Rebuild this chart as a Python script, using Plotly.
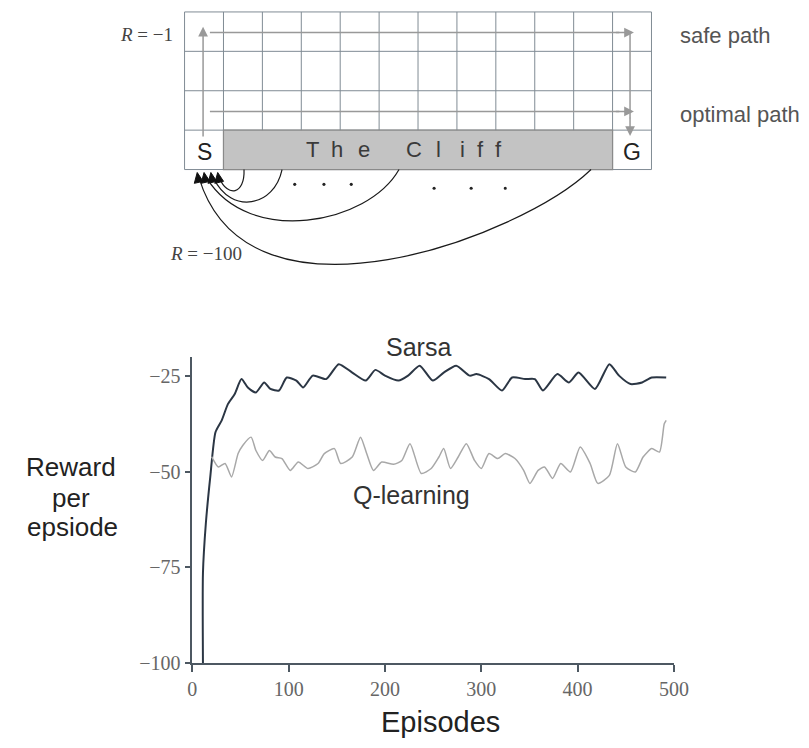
import plotly.graph_objects as go

# The page adds an 8px body margin, so the figure is 16px smaller than the window
PAGE_W, PAGE_H = 809, 748
OFF = 8
W, H = PAGE_W - 2 * OFF, PAGE_H - 2 * OFF

# ---------------- data ----------------
sarsa_episodes = [11, 11, 14, 18.6, 24, 30.5, 37, 44, 51, 57.6, 66, 74.6, 81, 90, 98, 108, 115, 125, 139,
                  152, 166, 180, 190, 200, 214, 224, 236, 249.6, 261, 274, 288, 295, 308, 321.5, 332, 345.5,
                  355.6, 364, 379, 391, 401, 418, 433, 443, 455, 467, 477, 492]
sarsa_reward = [-100, -76.5, -63.5, -51.3, -39.6, -36.5, -32.2, -29.6, -25.7, -27.9, -29.2, -26.6, -28.3, -28.7,
                -25.3, -26.1, -27.9, -24.8, -25.7, -21.8, -24.0, -26.1, -23.3, -24.8, -26.1, -24.8, -22.2, -26.1,
                -24.0, -22.2, -24.8, -24.4, -25.7, -28.7, -25.3, -25.7, -25.7, -28.7, -24.4, -26.6, -24.0, -28.3,
                -21.8, -24.8, -27.0, -26.6, -25.3, -25.3]

q_episodes = [20, 27, 34, 40.7, 47.5, 52.5, 61, 66, 73, 80, 86, 93, 101.7, 110, 120, 130.5, 137, 147.5, 154,
              166, 174.6, 181, 188, 196.6, 209, 217.5, 226, 237.7, 248, 256, 261, 268, 276, 284.5, 293, 300,
              308, 317, 325, 335, 344, 350.5, 359, 365.7, 374, 382.5, 392.6, 402.7, 413, 421, 433, 441.4, 450,
              460, 468, 477, 485, 490, 492]
q_reward = [-46.0, -48.7, -47.8, -51.3, -45.2, -43.0, -40.9, -44.4, -47.0, -44.4, -46.1, -46.5, -49.6, -47.4,
            -49.1, -47.8, -45.2, -43.9, -47.8, -46.1, -40.9, -45.2, -49.6, -47.4, -48.0, -47.0, -42.6, -50.4,
            -49.1, -46.1, -43.9, -49.1, -46.1, -42.6, -47.0, -49.1, -45.2, -46.5, -45.2, -46.5, -49.6, -53.0,
            -49.6, -48.7, -51.7, -47.8, -50.0, -43.5, -47.8, -53.0, -50.9, -42.6, -48.7, -50.0, -46.1, -43.9,
            -44.8, -37.4, -36.5]

x_ticks = [0, 100, 200, 300, 400, 500]
y_ticks = [-100, -75, -50, -25]

# ---------------- helpers ----------------
GRID = "#808b94"
AXIS = "#4d5862"
SANS = "Liberation Sans, Arial, sans-serif"
SERIF = "Liberation Serif, Times New Roman, serif"

fig = go.Figure()

fig.add_trace(go.Scatter(x=sarsa_episodes, y=sarsa_reward, mode="lines",
                         line=dict(color="#2b3644", width=2, shape="spline", smoothing=0.6),
                         name="Sarsa", showlegend=False, hoverinfo="skip"))
fig.add_trace(go.Scatter(x=q_episodes, y=q_reward, mode="lines",
                         line=dict(color="#a8a8a8", width=1.5, shape="spline", smoothing=0.6),
                         name="Q-learning", showlegend=False, hoverinfo="skip"))
# invisible trace that establishes the pixel-space overlay axes for the diagram
fig.add_trace(go.Scatter(x=[0], y=[0], xaxis="x2", yaxis="y2", mode="markers",
                         marker=dict(size=1, opacity=0), showlegend=False, hoverinfo="skip"))

shapes = []
ann = []

def line(x0, y0, x1, y1, color=GRID, width=1):
    shapes.append(dict(type="line", xref="x2", yref="y2", x0=x0, y0=y0, x1=x1, y1=y1,
                       line=dict(color=color, width=width), layer="above"))

def path(d, color="#1a1a1a", width=1.2, fill=None):
    s = dict(type="path", xref="x2", yref="y2", path=d, line=dict(color=color, width=width), layer="above")
    if fill:
        s["fillcolor"] = fill
    shapes.append(s)

def text(x, y, t, size=13, color="#333", family=SANS, xanchor="center"):
    ann.append(dict(x=x, y=y, xref="x2", yref="y2", text=t, showarrow=False, xanchor=xanchor,
                    yanchor="middle", font=dict(size=size, color=color, family=family)))

def arrow(x, y, ax, ay, color="#999", width=1.5):
    ann.append(dict(x=x, y=y, ax=ax, ay=ay, xref="x2", yref="y2", axref="x2", ayref="y2",
                    text="", showarrow=True, arrowhead=2, arrowsize=1.3, arrowwidth=width,
                    arrowcolor=color, standoff=0))

# --------- grid world ---------
gx0, gx1, gy0, gy1 = 184, 663, 12, 172
ncol, nrow = 12, 4
cw = (gx1 - gx0) / ncol
ch = (gy1 - gy0) / nrow
for i in range(ncol + 1):
    line(gx0 + i * cw, gy0, gx0 + i * cw, gy1)
for j in range(nrow + 1):
    line(gx0, gy0 + j * ch, gx1, gy0 + j * ch)

# cliff
shapes.append(dict(type="rect", xref="x2", yref="y2", x0=gx0 + cw, x1=gx1 - cw, y0=gy1 - ch, y1=gy1,
                   fillcolor="#c3c3c3", line=dict(color="#8a8a8a", width=1.2), layer="above"))
cliff_letters = ["T", "h", "e", "C", "l", "i", "f", "f"]
cliff_x = [315, 340, 368, 419, 444, 469, 488, 506]
for ch_, cx in zip(cliff_letters, cliff_x):
    text(cx, 152, ch_, size=22, color="#3a3a3a")
text(gx0 + cw / 2, 154, "S", size=23, color="#222")
text(gx1 - cw / 2, 154, "G", size=23, color="#222")

# paths (gray arrows)
arrow(203, 27, 203, 140)                # up from S
line(210, 33, 630, 33, color="#999", width=1.5)
arrow(645, 33, 625, 33)                 # safe path right
line(641, 34, 641, 120, color="#999", width=1.5)
arrow(641, 138, 641, 118)               # down into G
line(210, 113, 630, 113, color="#999", width=1.5)
arrow(645, 113, 625, 113)               # optimal path right

text(690, 36, "safe path", size=22, color="#555", xanchor="left")
text(690, 116, "optimal path", size=22, color="#555", xanchor="left")
text(116, 35, "<i>R</i> = −1", size=19, color="#444", family=SERIF, xanchor="left")
text(167, 257, "<i>R</i> = −100", size=19, color="#444", family=SERIF, xanchor="left")

# falling arcs back to S
path("M 245 172 C 246 198, 228 200, 220 181")
path("M 284 172 C 276 210, 232 218, 214 181")
path("M 404 172 C 372 228, 250 250, 207 181")
path("M 601 172 C 530 240, 250 345, 199 181")
# arrowheads
for hx in [197, 204, 211, 218]:
    path(f"M {hx} 175 L {hx - 3} 186 L {hx + 6} 184 Z", color="#111", width=1, fill="#111")

# dots
for dx, dy in [(297, 187), (327, 187), (355, 187), (440, 191), (478, 191), (513, 191)]:
    shapes.append(dict(type="circle", xref="x2", yref="y2", x0=dx - 1.6, x1=dx + 1.6, y0=dy - 1.6, y1=dy + 1.6,
                       fillcolor="#222", line=dict(width=0), layer="above"))

# --------- chart labels ---------
text(68, 474, "Reward", size=26, color="#222")
text(68, 505, "per", size=26, color="#222")
text(69, 535, "epsiode", size=26, color="#222")
text(447, 733, "Episodes", size=29, color="#222")
text(424, 352, "Sarsa", size=25, color="#333")
text(417, 502, "Q-learning", size=25, color="#333")

# --------- layout ---------
def px_x(px):
    return (px - OFF) / W

def px_y(py):
    return 1 - (py - OFF) / H

y_top = -25 + (382 - 362.5) / 3.88
tickfont = dict(family=SERIF, size=20, color="#666")
fig.update_layout(
    width=W, height=H, margin=dict(l=0, r=0, t=0, b=0),
    paper_bgcolor="white", plot_bgcolor="rgba(0,0,0,0)",
    showlegend=False,
    shapes=shapes, annotations=ann,
    xaxis=dict(domain=[px_x(192), px_x(686)], range=[0, 500], tickvals=x_ticks,
               showline=True, linecolor=AXIS, linewidth=1.5, ticks="outside", ticklen=7,
               tickcolor=AXIS, tickwidth=1.5, showgrid=False, zeroline=False,
               tickfont=tickfont, anchor="y"),
    yaxis=dict(domain=[px_y(673), px_y(362.5)], range=[-100, y_top], tickvals=y_ticks,
               showline=True, linecolor=AXIS, linewidth=1.5, ticks="outside", ticklen=6,
               tickcolor=AXIS, tickwidth=1.5, showgrid=False, zeroline=False,
               tickfont=tickfont, anchor="x"),
    xaxis2=dict(domain=[0, 1], range=[OFF, OFF + W], visible=False, anchor="y2", fixedrange=True),
    yaxis2=dict(domain=[0, 1], range=[OFF + H, OFF], visible=False, anchor="x2", fixedrange=True),
)

fig.write_html("out.html", config={"displayModeBar": False})
